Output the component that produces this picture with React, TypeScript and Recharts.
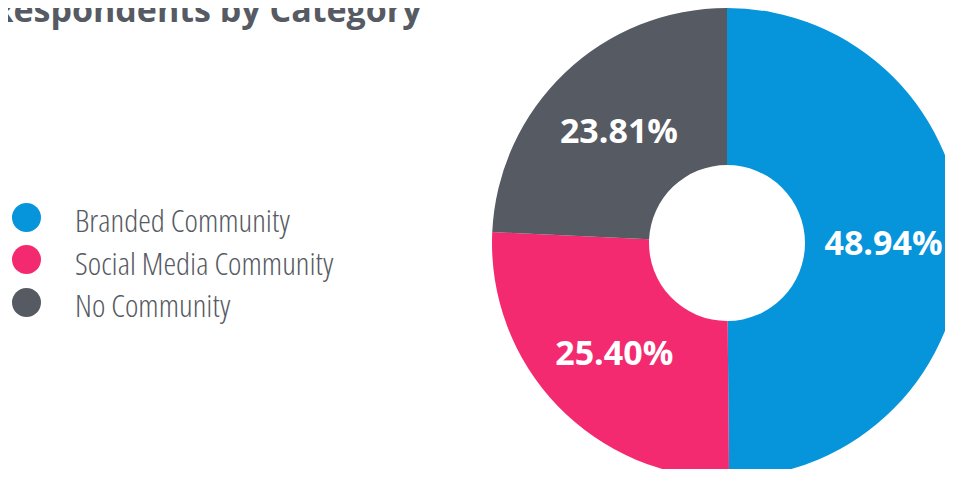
import React from 'react'
import { PieChart, Pie, Cell } from 'recharts'

const CATEGORIES = ['Branded Community', 'Social Media Community', 'No Community']
const SHARES = [48.94, 25.4, 23.81]
const COLORS = ['#0694DB', '#F42A71', '#565A62']
const TITLE = 'Respondents by Category'

const data = CATEGORIES.map((name, i) => ({ name, value: SHARES[i] }))

const RADIAN = Math.PI / 180

function renderLabel(props: any) {
  const { cx, cy, midAngle, innerRadius, outerRadius, value } = props
  const r = (innerRadius + outerRadius) / 2
  const x = cx + r * Math.cos(-midAngle * RADIAN)
  const y = cy + r * Math.sin(-midAngle * RADIAN)
  return (
    <text
      x={x}
      y={y}
      fill="#fff"
      textAnchor="middle"
      dominantBaseline="central"
      style={{ fontFamily: '"Open Sans", sans-serif', fontWeight: 700, fontSize: 34 }}
    >
      {Number(value).toFixed(2)}%
    </text>
  )
}

function ChartLegend() {
  return (
    <div style={{ position: 'absolute', left: 12, top: 196 }}>
      {CATEGORIES.map((name, i) => (
        <div key={i} style={{ display: 'flex', alignItems: 'center', height: 42.5 }}>
          <span style={{
            width: 29, height: 29, borderRadius: '50%', background: COLORS[i],
            display: 'inline-block', marginRight: 34, flex: 'none'
          }} />
          <span style={{
            fontFamily: '"Open Sans", sans-serif', fontWeight: 300, fontStretch: '75%',
            fontSize: 32, color: '#565A62', lineHeight: 1, whiteSpace: 'nowrap',
            position: 'relative', top: 3
          }}>{name}</span>
        </div>
      ))}
    </div>
  )
}

export default function App() {
  return (
    <div style={{
      position: 'relative', margin: -8, width: 953, height: 477,
      overflow: 'hidden', background: '#fff'
    }}>
      <div style={{
        position: 'absolute', left: -9, top: -8, fontFamily: '"Open Sans", sans-serif',
        fontWeight: 700, fontSize: 34, lineHeight: 1, color: '#565A63', whiteSpace: 'nowrap'
      }}>{TITLE}</div>
      <ChartLegend />
      <div style={{ position: 'absolute', left: 0, top: 0 }}>
        <PieChart width={980} height={490} margin={{ top: 0, right: 0, bottom: 0, left: 0 }}>
          <Pie
            data={data}
            dataKey="value"
            nameKey="name"
            cx={727}
            cy={243}
            innerRadius={78}
            outerRadius={235}
            startAngle={90}
            endAngle={-270}
            stroke="none"
            label={renderLabel}
            labelLine={false}
            isAnimationActive={false}
          >
            {data.map((_, i) => (
              <Cell key={i} fill={COLORS[i]} />
            ))}
          </Pie>
        </PieChart>
      </div>
    </div>
  )
}
